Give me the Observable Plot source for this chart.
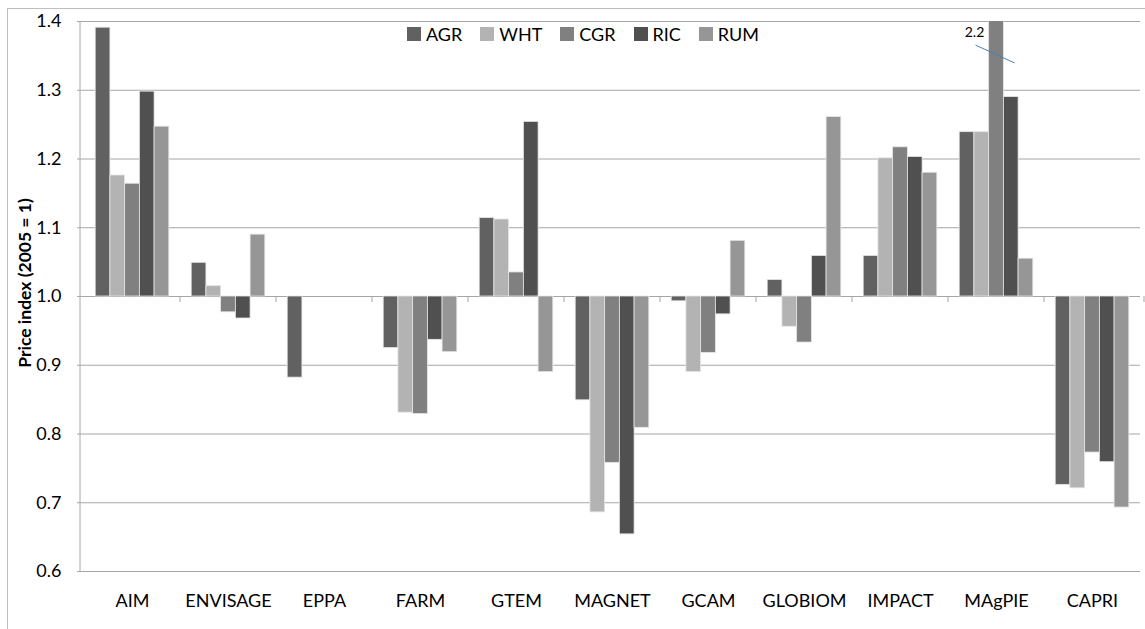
<!DOCTYPE html>
<html>
<head>
<meta charset="utf-8">
<script src="https://cdn.jsdelivr.net/npm/d3@7"></script>
<script src="https://cdn.jsdelivr.net/npm/@observablehq/plot@0.6"></script>
<style>
  html, body { margin: 0; padding: 0; background: #fff; overflow: hidden; }
  #wrap { position: relative; width: 1145px; height: 629px; font-family: Lato, "Open Sans", sans-serif; }
  #frame { position: absolute; left: 7px; top: 8px; width: 1160px; height: 640px;
           border-left: 1px solid #bfbfbf; border-top: 1px solid #bfbfbf; }
  #chart { position: absolute; left: 0; top: 0; }
  #legend { position: absolute; left: 407px; top: 23px; display: flex; align-items: center;
            font-size: 18px; color: #000; }
  #legend .item { display: flex; align-items: center; margin-right: 18px; }
  #legend .sw { width: 14px; height: 14px; margin-right: 5px; }
</style>
</head>
<body>
<div id="wrap">
  <div id="frame"></div>
  <div id="chart"></div>
  <div id="legend"></div>
</div>
<script>
// ---- data ----
const models = ["AIM","ENVISAGE","EPPA","FARM","GTEM","MAGNET","GCAM","GLOBIOM","IMPACT","MAgPIE","CAPRI"];
const series = ["AGR","WHT","CGR","RIC","RUM"];
const seriesColors = ["#616161","#b3b3b3","#808080","#505050","#969696"];
const agr = [1.391, 1.049, 0.882, 0.925, 1.114, 0.849, 0.993, 1.024, 1.059, 1.239, 0.726];
const wht = [1.176, 1.015, null,  0.831, 1.112, 0.686, 0.890, 0.956, 1.201, 1.239, 0.721];
const cgr = [1.164, 0.977, null,  0.829, 1.035, 0.758, 0.918, 0.933, 1.217, 2.2,   0.773];
const ric = [1.298, 0.968, null,  0.937, 1.254, 0.654, 0.974, 1.059, 1.203, 1.290, 0.759];
const rum = [1.247, 1.090, null,  0.919, 0.890, 0.809, 1.081, 1.261, 1.180, 1.055, 0.693];
const yTicks = [0.6, 0.7, 0.8, 0.9, 1.0, 1.1, 1.2, 1.3, 1.4];
const yTitle = "Price index (2005 = 1)";
const annotation = [{model: "MAgPIE", series: "CGR", label: "2.2"}];

const valuesBySeries = [agr, wht, cgr, ric, rum];
const data = [];
models.forEach((m, i) => series.forEach((s, j) => {
  const v = valuesBySeries[j][i];
  if (v != null) data.push({model: m, series: s, value: v});
}));

const W = 1145, H = 629;
const plot = Plot.plot({
  width: W,
  height: H,
  marginLeft: 80,
  marginRight: 1,
  marginTop: 21,
  marginBottom: 58,
  style: {fontFamily: "Lato, 'Open Sans', sans-serif", fontSize: "18px", color: "#000", background: "transparent"},
  fx: {domain: models, padding: 0, label: null, axis: "bottom", tickSize: 0, tickPadding: 23},
  x: {domain: series, paddingInner: 0, paddingOuter: 0.76, axis: null, round: false},
  y: {domain: [0.6, 1.4], axis: null},
  color: {domain: series, range: seriesColors},
  marks: [
    Plot.gridY(yTicks, {stroke: "#a6a6a6", strokeOpacity: 1}),
    Plot.barY(data, {fx: "model", x: "series", y1: 1, y2: "value", fill: "series",
                     stroke: "#e6e6e6", strokeWidth: 0.8, clip: true}),
    Plot.axisY(yTicks, {tickSize: 7, tickPadding: 16, tickFormat: d3.format(".1f"),
                        stroke: "#a6a6a6", fill: "#000", label: null}),
    Plot.text(annotation, {fx: "model", x: "series", y: 1.4, text: "label", dx: -22, dy: 11,
                           fontSize: 14, fill: "#000"})
  ]
});
document.getElementById("chart").appendChild(plot);

// axis line, category boundary ticks, y title and annotation leader via the plot's scales
const fx = plot.scale("fx"), xs = plot.scale("x"), ys = plot.scale("y");
const svg = d3.select(plot.tagName.toLowerCase() === "svg" ? plot : plot.querySelector("svg"));
const g = svg.append("g");
const x0 = fx.range[0];
g.append("line").attr("x1", x0).attr("x2", x0)
  .attr("y1", ys.apply(1.4)).attr("y2", ys.apply(0.6))
  .attr("stroke", "#a6a6a6");
const y1 = ys.apply(1);
for (let i = 1; i <= models.length; i++) {
  const xb = i < models.length ? fx.apply(models[i]) : fx.range[1];
  g.append("line").attr("x1", xb).attr("x2", xb).attr("y1", y1).attr("y2", y1 + 6)
    .attr("stroke", "#a6a6a6");
}
g.append("text")
  .attr("transform", `translate(31,${(ys.apply(1.4) + ys.apply(0.6)) / 2 - 13}) rotate(-90)`)
  .attr("text-anchor", "middle")
  .attr("font-weight", "bold")
  .attr("font-size", 17.5)
  .attr("fill", "#000")
  .text(yTitle);
annotation.forEach(a => {
  const cx = fx.apply(a.model) + (xs.apply(a.series) - xs.range[0]) + xs.bandwidth / 2;
  g.append("line")
    .attr("x1", cx - 20.5).attr("y1", ys.apply(1.365))
    .attr("x2", cx + 18.5).attr("y2", ys.apply(1.339))
    .attr("stroke", "#4a7ebb").attr("stroke-width", 1);
});

// legend
const legend = d3.select("#legend");
series.forEach((s, i) => {
  const it = legend.append("div").attr("class", "item");
  it.append("div").attr("class", "sw").style("background", seriesColors[i]);
  it.append("span").text(s);
});
</script>
</body>
</html>
